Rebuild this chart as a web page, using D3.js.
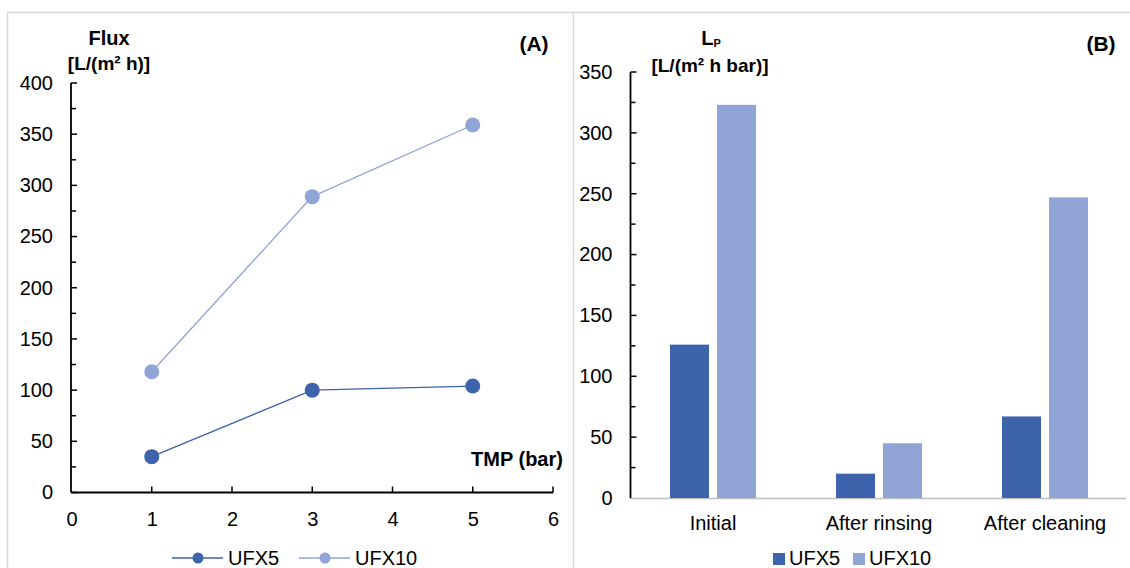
<!DOCTYPE html>
<html><head><meta charset="utf-8">
<script src="https://cdn.jsdelivr.net/npm/d3@7"></script>
<style>
body{margin:0;background:#fff;}
svg{display:block;font-family:"Liberation Sans",Arial,sans-serif;}
</style></head>
<body><svg id="c" width="1130" height="568"></svg>
<script>
// Panel A data
const tmp = [1, 3, 5];
const fluxUFX5 = [35, 100, 104];
const fluxUFX10 = [118, 289, 359];
const xTicksA = [0, 1, 2, 3, 4, 5, 6];
const yTicksA = [0, 50, 100, 150, 200, 250, 300, 350, 400];
// Panel B data
const stages = ["Initial", "After rinsing", "After cleaning"];
const lpUFX5 = [126, 20, 67];
const lpUFX10 = [323, 45, 247];
const yTicksB = [0, 50, 100, 150, 200, 250, 300, 350];
const seriesNames = ["UFX5", "UFX10"];
const colors = ["#3d63ad", "#90a4d5"];

const FF = "Liberation Sans, Arial, sans-serif";
const FS = 20;
const svg = d3.select("#c");
// panel borders
svg.append("line").attr("x1",7).attr("x2",1130).attr("y1",12.5).attr("y2",12.5).attr("stroke","#d9d9d9").attr("stroke-width",1.5);
svg.append("line").attr("x1",7.5).attr("x2",7.5).attr("y1",12).attr("y2",568).attr("stroke","#d9d9d9").attr("stroke-width",1.5);
svg.append("line").attr("x1",573.5).attr("x2",573.5).attr("y1",12).attr("y2",568).attr("stroke","#d9d9d9").attr("stroke-width",1.5);

function styleText(sel){ sel.selectAll("text").attr("font-size",FS).attr("fill","#000").attr("font-family",FF); }

// ---------- Panel A ----------
const xA = d3.scaleLinear().domain([0,6]).range([71.5,553]);
const yA = d3.scaleLinear().domain([0,400]).range([492.5,83]);
const gA = svg.append("g");
const yAxA = gA.append("g").attr("transform","translate(71,0)")
  .call(d3.axisLeft(yA).tickValues(yTicksA).tickSize(0).tickPadding(18));
yAxA.select(".domain").remove();
styleText(yAxA);
gA.append("line").attr("x1",71).attr("x2",71).attr("y1",yA(400)).attr("y2",yA(0)).attr("stroke","#000").attr("stroke-width",1.8);
gA.selectAll(".ytk").data(d3.range(0,401,25)).join("line")
  .attr("x1",71).attr("x2",d=>d%50===0?77:76).attr("y1",d=>yA(d)).attr("y2",d=>yA(d))
  .attr("stroke","#000").attr("stroke-width",1.5);
const xAxA = gA.append("g").attr("transform","translate(0,492.5)")
  .call(d3.axisBottom(xA).tickValues(xTicksA).tickFormat(d3.format("d")).tickSize(0).tickPadding(19));
xAxA.select(".domain").remove();
styleText(xAxA);
gA.append("line").attr("x1",xA(0)).attr("x2",xA(6)).attr("y1",492.5).attr("y2",492.5).attr("stroke","#000").attr("stroke-width",1.8);
gA.selectAll(".xtk").data(xTicksA.slice(1)).join("line")
  .attr("x1",d=>xA(d)).attr("x2",d=>xA(d)).attr("y1",492.5).attr("y2",486.5)
  .attr("stroke","#000").attr("stroke-width",1.5);
const seriesA = [fluxUFX5, fluxUFX10];
const line = d3.line().x((d,i)=>xA(tmp[i])).y(d=>yA(d));
seriesA.forEach((s,k)=>{
  gA.append("path").datum(s).attr("d",line).attr("fill","none").attr("stroke",colors[k]).attr("stroke-width",1.3);
  gA.selectAll(".pt"+k).data(s).join("circle").attr("cx",(d,i)=>xA(tmp[i])).attr("cy",d=>yA(d)).attr("r",7.5).attr("fill",colors[k]);
});
gA.append("text").attr("x",109).attr("y",45).attr("text-anchor","middle").attr("font-weight","bold").attr("font-size",20).text("Flux");
gA.append("text").attr("x",109).attr("y",70).attr("text-anchor","middle").attr("font-weight","bold").attr("font-size",19).text("[L/(m² h)]");
gA.append("text").attr("x",534).attr("y",51).attr("text-anchor","middle").attr("font-weight","bold").attr("font-size",21).text("(A)");
gA.append("text").attr("x",517).attr("y",466).attr("text-anchor","middle").attr("font-weight","bold").attr("font-size",20).text("TMP (bar)");
const legA = [172, 299];
seriesNames.forEach((n,k)=>{
  const lx = legA[k];
  gA.append("line").attr("x1",lx).attr("x2",lx+51).attr("y1",558).attr("y2",558).attr("stroke",colors[k]).attr("stroke-width",1.3);
  gA.append("circle").attr("cx",lx+26).attr("cy",558).attr("r",5.5).attr("fill",colors[k]);
  gA.append("text").attr("x",lx+56).attr("y",565).attr("font-size",FS).text(n);
});

// ---------- Panel B ----------
const xB = d3.scaleBand().domain(stages).range([630,1128]);
const xInner = d3.scaleBand().domain(seriesNames).range([0,xB.bandwidth()]).paddingInner(0.17).paddingOuter(0.85);
const yB = d3.scaleLinear().domain([0,350]).range([498,72]);
const gB = svg.append("g");
gB.append("line").attr("x1",630).attr("x2",1126).attr("y1",498.5).attr("y2",498.5).attr("stroke","#bfbfbf").attr("stroke-width",1.5);
const seriesB = [lpUFX5, lpUFX10];
seriesB.forEach((s,k)=>{
  gB.selectAll(".bar"+k).data(s).join("rect")
    .attr("x",(d,i)=>xB(stages[i])+xInner(seriesNames[k]))
    .attr("width",xInner.bandwidth())
    .attr("y",d=>yB(d)).attr("height",d=>yB(0)-yB(d))
    .attr("fill",colors[k]);
});
const yAxB = gB.append("g").attr("transform","translate(630.5,0)")
  .call(d3.axisLeft(yB).tickValues(yTicksB).tickSize(0).tickPadding(18));
yAxB.select(".domain").remove();
styleText(yAxB);
gB.append("line").attr("x1",630.5).attr("x2",630.5).attr("y1",yB(350)).attr("y2",yB(0)).attr("stroke","#000").attr("stroke-width",1.8);
gB.selectAll(".ytk").data(d3.range(25,351,25)).join("line")
  .attr("x1",630.5).attr("x2",d=>d%50===0?636.5:635.5).attr("y1",d=>yB(d)).attr("y2",d=>yB(d))
  .attr("stroke","#000").attr("stroke-width",1.5);
const xAxB = gB.append("g").attr("transform","translate(0,498)")
  .call(d3.axisBottom(xB).tickSize(0).tickPadding(18));
xAxB.select(".domain").remove();
styleText(xAxB);
const lp = gB.append("text").attr("x",711).attr("y",45).attr("text-anchor","middle").attr("font-weight","bold").attr("font-size",20);
lp.append("tspan").text("L");
lp.append("tspan").attr("font-size",11).attr("dy",2).text("P");
gB.append("text").attr("x",710).attr("y",72).attr("text-anchor","middle").attr("font-weight","bold").attr("font-size",19).text("[L/(m² h bar)]");
gB.append("text").attr("x",1101).attr("y",51).attr("text-anchor","middle").attr("font-weight","bold").attr("font-size",21).text("(B)");
const legB = [773, 853];
seriesNames.forEach((n,k)=>{
  gB.append("rect").attr("x",legB[k]).attr("y",553).attr("width",12).attr("height",12).attr("fill",colors[k]);
  gB.append("text").attr("x",legB[k]+16).attr("y",565).attr("font-size",FS).text(n);
});
</script></body></html>
